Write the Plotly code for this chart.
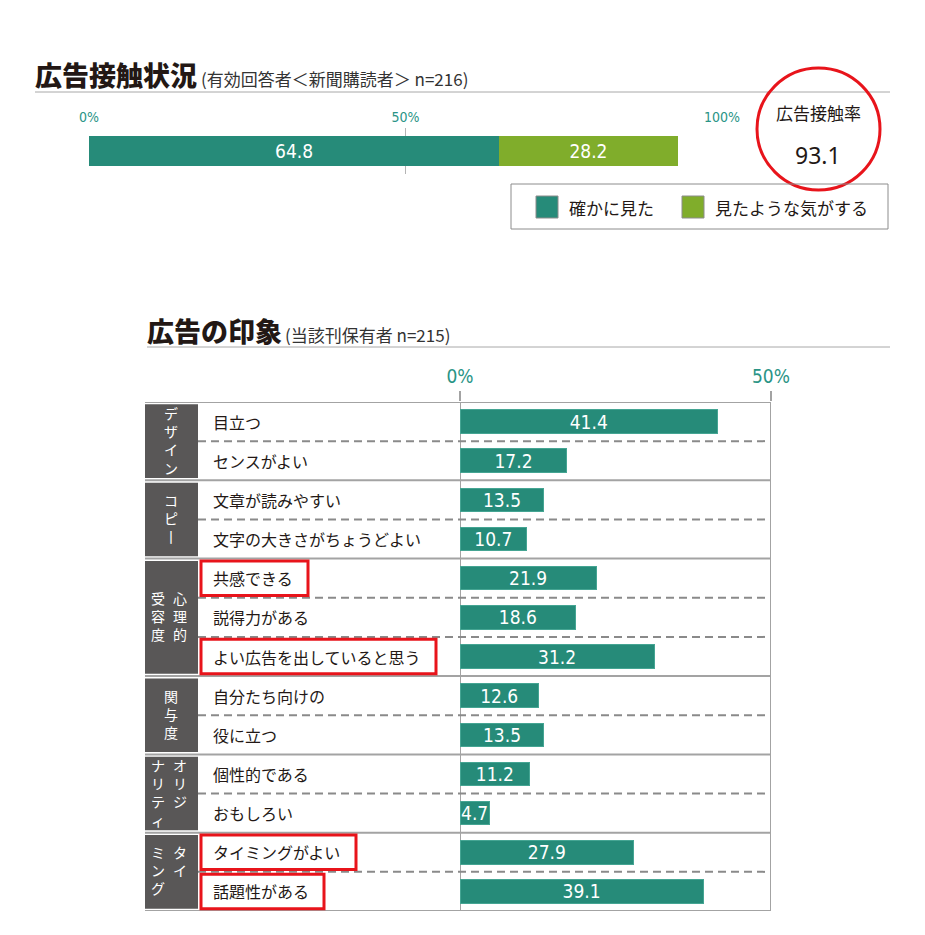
import plotly.graph_objects as go

# the page body adds an 8px margin, so the figure is laid out 8px in from the corner
OFF = 8
W, H = 925 - OFF, 935 - OFF

# --- 広告接触状況 data ---
contact_series = ["確かに見た", "見たような気がする"]
contact_values = [64.8, 28.2]
contact_rate = 93.1
contact_ticks = [0, 50, 100]
contact_ticktext = ["0%", "50%", "100%"]

# --- 広告の印象 data ---
items = ["目立つ", "センスがよい",
         "文章が読みやすい", "文字の大きさがちょうどよい",
         "共感できる", "説得力がある", "よい広告を出していると思う",
         "自分たち向けの", "役に立つ",
         "個性的である", "おもしろい",
         "タイミングがよい", "話題性がある"]
item_values = [41.4, 17.2, 13.5, 10.7, 21.9, 18.6, 31.2, 12.6, 13.5, 11.2, 4.7, 27.9, 39.1]
groups = [["デザイン"], ["コピー"], ["心理的", "受容度"], ["関与度"], ["オリジ", "ナリティ"], ["タイ", "ミング"]]
group_sizes = [2, 2, 3, 2, 2, 2]
highlighted = ["共感できる", "よい広告を出していると思う", "タイミングがよい", "話題性がある"]
impression_ticks = [0, 50]
impression_ticktext = ["0%", "50%"]

TEAL = "#268b79"
GREEN = "#80ad2b"
TICK_TEAL = "#2a9486"
DARK = "#595757"
INK = "#231815"
GRID = "#a3a3a3"
RED = "#e8141b"
FONT = "Noto Sans CJK JP, Noto Sans, sans-serif"
NUM_FONT = "Liberation Sans Narrow, DejaVu Sans Condensed, Noto Sans, sans-serif"


def px(x):
    return (x - OFF) / W


def py(y):
    return 1 - (y - OFF) / H


def text(t, x, y, size, color=INK, xanchor="center", family=FONT, weight="normal", **kw):
    return dict(text=t, x=px(x), y=py(y), xref="paper", yref="paper", xanchor=xanchor,
                yanchor="middle", showarrow=False,
                font=dict(size=size, color=color, family=family, weight=weight), **kw)


fig = go.Figure()

# top stacked bar
for name, v, c in zip(contact_series, contact_values, [TEAL, GREEN]):
    fig.add_trace(go.Bar(
        x=[v], y=["接触"], orientation="h", name=name,
        marker=dict(color=c, line=dict(width=0)),
        text=[f"{v:.1f}"], textposition="inside", insidetextanchor="middle",
        textfont=dict(color="white", size=19, family=NUM_FONT),
        width=0.65, xaxis="x", yaxis="y", showlegend=False,
    ))

# impression bars
fig.add_trace(go.Bar(
    x=item_values, y=items, orientation="h",
    marker=dict(color=TEAL, line=dict(color="#45a593", width=1)),
    text=[f"{v:.1f}" for v in item_values], textposition="inside",
    insidetextanchor="middle", constraintext="none",
    textfont=dict(color="white", size=19, family=NUM_FONT),
    width=0.6, xaxis="x2", yaxis="y2", showlegend=False,
))

shapes = []
ann = []

# titles
ann.append(text("広告接触状況", 33, 75, 27, xanchor="left", weight=900))
ann.append(text("(有効回答者＜新聞購読者＞ n=216)", 199, 78, 17, xanchor="left", color="#333333"))
shapes.append(dict(type="line", xref="paper", yref="paper", x0=px(35), x1=px(890),
                   y0=py(92), y1=py(92), line=dict(color="#a8a8a8", width=1)))
ann.append(text("広告の印象", 145, 330, 27, xanchor="left", weight=900))
ann.append(text("(当該刊保有者 n=215)", 283, 334, 17, xanchor="left", color="#333333"))
shapes.append(dict(type="line", xref="paper", yref="paper", x0=px(147), x1=px(890),
                   y0=py(347), y1=py(347), line=dict(color="#a8a8a8", width=1)))

# contact rate circle
shapes.append(dict(type="circle", xref="paper", yref="paper", x0=px(757), x1=px(880),
                   y0=py(190), y1=py(68), line=dict(color=RED, width=3)))
ann.append(text("広告接触率", 818, 113, 17))
ann.append(text(f"{contact_rate}", 818, 155, 23, family="Noto Sans, sans-serif"))

# legend (drawn)
shapes.append(dict(type="rect", xref="paper", yref="paper", x0=px(511), x1=px(888),
                   y0=py(229), y1=py(184), line=dict(color="#8c8c8c", width=1)))
for name, c, sx in zip(contact_series, [TEAL, GREEN], [536, 682]):
    shapes.append(dict(type="rect", xref="paper", yref="paper", x0=px(sx), x1=px(sx + 22),
                       y0=py(218), y1=py(196), fillcolor=c, line=dict(color="#8c8c8c", width=1)))
    ann.append(text(name, sx + 31, 207, 17, xanchor="left"))

# impression table
n = len(items)
starts = []
s = 0
for g in group_sizes:
    starts.append(s)
    s += g

shapes.append(dict(type="line", xref="x2", yref="paper", x0=0, x1=0, y0=py(911), y1=py(402),
                   line=dict(color=GRID, width=2), layer="below"))
shapes.append(dict(type="line", xref="x2", yref="paper", x0=50, x1=50, y0=py(911), y1=py(402),
                   line=dict(color=GRID, width=2)))

GROUP_FS = 14
LINE_H = GROUP_FS * 1.3
for g, st, size in zip(groups, starts, group_sizes):
    shapes.append(dict(type="rect", xref="paper", yref="y2", x0=px(145), x1=px(198),
                       y0=st - 0.5 + 0.06, y1=st + size - 0.5 - 0.06,
                       fillcolor=DARK, line=dict(width=0)))
    for k in range(st, st + size - 1):
        shapes.append(dict(type="line", xref="paper", yref="y2", x0=px(198), x1=px(768),
                           y0=k + 0.5, y1=k + 0.5, line=dict(color="#8a8a8a", width=2, dash="8px,5px")))
    # vertical group text, columns right to left, tops aligned
    cols_x = [171] if len(g) == 1 else [180, 158]
    maxlen = max(len(c) for c in g)
    center = st + (size - 1) / 2
    for col, cx in zip(g, cols_x):
        ann.append(dict(text="<br>".join(col.replace("ー", "丨")), x=px(cx), y=center,
                        xref="paper", yref="y2", xanchor="center", yanchor="middle",
                        height=maxlen * LINE_H + 4, valign="top", showarrow=False,
                        font=dict(size=GROUP_FS, color="white", family=FONT)))

bounds = [-0.5] + [st + size - 0.5 for st, size in zip(starts, group_sizes)]
for b in bounds:
    shapes.append(dict(type="line", xref="paper", yref="y2", x0=px(145), x1=px(771),
                       y0=b, y1=b, line=dict(color=GRID, width=2)))

for i, item in enumerate(items):
    ann.append(dict(text=item, x=px(211), y=item, xref="paper", yref="y2",
                    xanchor="left", yanchor="middle",
                    showarrow=False, font=dict(size=16, color=INK, family=FONT)))
    if item in highlighted:
        shapes.append(dict(type="rect", xref="paper", yref="y2", x0=px(201),
                           x1=px(211 + 16 * len(item) + 17), y0=i - 0.44, y1=i + 0.44,
                           line=dict(color=RED, width=3)))

fig.update_layout(
    width=W, height=H, autosize=False,
    margin=dict(l=0, r=0, t=0, b=0, autoexpand=False),
    paper_bgcolor="white", plot_bgcolor="rgba(0,0,0,0)",
    barmode="stack", showlegend=False,
    font=dict(family=FONT, color=INK),
    xaxis=dict(domain=[px(89), px(722)], range=[0, 100], side="top", anchor="y",
               tickvals=contact_ticks, ticktext=contact_ticktext, ticks="", automargin=False,
               showgrid=True, gridcolor="#b4b4b4", gridwidth=1, zeroline=False, showline=False,
               tickfont=dict(size=14, color=TICK_TEAL, family=NUM_FONT), ticklabelstandoff=2),
    yaxis=dict(domain=[py(174), py(128)], range=[-0.5, 0.5], visible=False, anchor="x",
               automargin=False),
    xaxis2=dict(domain=[px(460), px(771)], range=[0, 50], side="top", anchor="y2",
                tickvals=impression_ticks, ticktext=impression_ticktext, automargin=False,
                ticks="outside", ticklen=10, tickwidth=2, tickcolor=GRID,
                showgrid=False, zeroline=False, showline=False,
                tickfont=dict(size=19, color=TICK_TEAL, family=NUM_FONT), ticklabelstandoff=0),
    yaxis2=dict(domain=[py(911), py(402)], type="category", categoryorder="array",
                categoryarray=items, range=[n - 0.5, -0.5], visible=False, anchor="x2",
                automargin=False),
    shapes=shapes, annotations=ann,
)

fig.write_html("out.html")
